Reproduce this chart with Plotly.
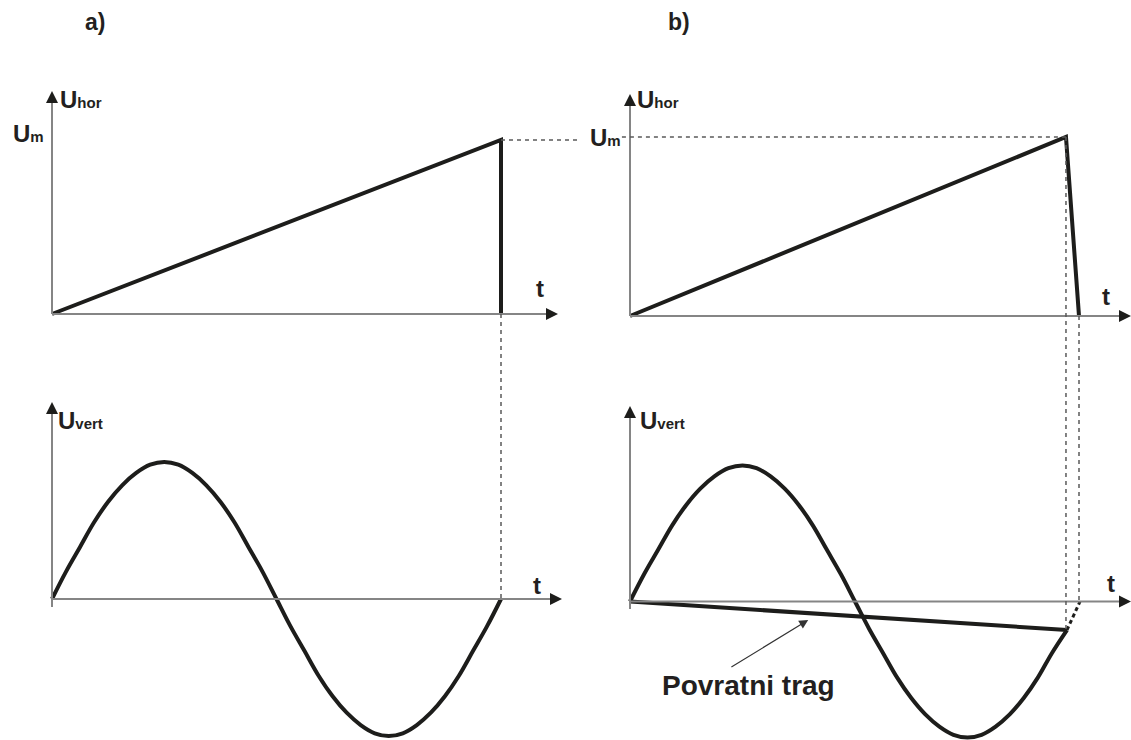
import plotly.graph_objects as go

W, H = 1131, 740

# ---------------- data (t in periods of the sweep, U normalised) ----------------
# a) ideal sawtooth: linear rise to Um, instant return
t_hor_a = [0.0, 1.0, 1.0]
u_hor_a = [0.0, 1.0, 0.0]
# b) real sawtooth: rise to Um, finite return time
t_hor_b = [0.0, 0.971, 1.0]
u_hor_b = [0.0, 1.0, 0.0]

# vertical-deflection signal
t_vert_a = [0.0, 0.03125, 0.0625, 0.09375, 0.125, 0.15625, 0.1875, 0.21875, 0.25,
            0.28125, 0.3125, 0.34375, 0.375, 0.40625, 0.4375, 0.46875, 0.5,
            0.53125, 0.5625, 0.59375, 0.625, 0.65625, 0.6875, 0.71875, 0.75,
            0.78125, 0.8125, 0.84375, 0.875, 0.90625, 0.9375, 0.96875, 1.0]
u_vert_a = [0.0, 0.20, 0.38, 0.56, 0.71, 0.83, 0.92, 0.98, 1.0,
            0.98, 0.92, 0.83, 0.71, 0.56, 0.38, 0.20, 0.0,
            -0.20, -0.38, -0.56, -0.71, -0.83, -0.92, -0.98, -1.0,
            -0.98, -0.92, -0.83, -0.71, -0.56, -0.38, -0.20, 0.0]
t_vert_b = [0.0, 0.03125, 0.0625, 0.09375, 0.125, 0.15625, 0.1875, 0.21875, 0.25,
            0.28125, 0.3125, 0.34375, 0.375, 0.40625, 0.4375, 0.46875, 0.5,
            0.53125, 0.5625, 0.59375, 0.625, 0.65625, 0.6875, 0.71875, 0.75,
            0.78125, 0.8125, 0.84375, 0.875, 0.90625, 0.9375, 0.971]
u_vert_b = [0.0, 0.20, 0.38, 0.56, 0.71, 0.83, 0.92, 0.98, 1.0,
            0.98, 0.92, 0.83, 0.71, 0.56, 0.38, 0.20, 0.0,
            -0.20, -0.38, -0.56, -0.71, -0.83, -0.92, -0.98, -1.0,
            -0.98, -0.92, -0.83, -0.71, -0.56, -0.38, -0.21]
# return trace (Povratni trag) and the part of the signal during flyback
t_return_b = [0.0, 0.971]
u_return_b = [0.0, -0.21]
t_fly_b = [0.971, 1.0]
u_fly_b = [-0.21, 0.0]

# ---------------- layout geometry (pixels) ----------------
panels = {
    "a_top": dict(ax="", ox=52, oy=314, sx=449, sy=174, box=(0, 600, 80, 335)),
    "a_bot": dict(ax="2", ox=52, oy=599, sx=449, sy=137, box=(0, 600, 390, 740)),
    "b_top": dict(ax="3", ox=630, oy=316, sx=449, sy=179, box=(600, 1131, 80, 335)),
    "b_bot": dict(ax="4", ox=630, oy=601.5, sx=450, sy=136, box=(600, 1131, 390, 740)),
}

def py_of(p, u):
    return p["oy"] - u * p["sy"]

def paper_y(p, u):
    return 1 - py_of(p, u) / H

fig = go.Figure()
layout_axes = {}
for name, p in panels.items():
    x0, x1, y0, y1 = p["box"]
    xd = [x0 / W, x1 / W]
    xr = [(x0 - p["ox"]) / p["sx"], (x1 - p["ox"]) / p["sx"]]
    yd = [1 - y1 / H, 1 - y0 / H]
    yr = [(p["oy"] - y1) / p["sy"], (p["oy"] - y0) / p["sy"]]
    a = p["ax"]
    layout_axes["xaxis" + a] = dict(domain=xd, range=xr, visible=False, fixedrange=True,
                                    anchor="y" + a)
    layout_axes["yaxis" + a] = dict(domain=yd, range=yr, visible=False, fixedrange=True,
                                    anchor="x" + a)

BLACK = "#1d1d1b"
AXC = "#858585"
DASHC = "#5a5a5a"

def add_line(p, t, u, width=4, dash=None, shape="linear", color=BLACK):
    a = p["ax"]
    fig.add_trace(go.Scatter(x=t, y=u, mode="lines", xaxis="x" + a, yaxis="y" + a,
                             line=dict(color=color, width=width, dash=dash, shape=shape,
                                       smoothing=1.0),
                             hoverinfo="skip", showlegend=False, cliponaxis=False))

PA, PB, PC, PD = panels["a_top"], panels["a_bot"], panels["b_top"], panels["b_bot"]

shapes = []
annotations = []

def axis_arrows(p, x_tip_px, y_tip_px, y_bottom_px):
    a = p["ax"]
    xr, yr = "x" + a, "y" + a
    t_tip = (x_tip_px - p["ox"]) / p["sx"]
    u_tip = (p["oy"] - y_tip_px) / p["sy"]
    u_bot = (p["oy"] - y_bottom_px) / p["sy"]
    shapes.append(dict(type="line", xref=xr, yref=yr, x0=0, x1=t_tip - 6 / p["sx"], y0=0, y1=0,
                       line=dict(color=AXC, width=2)))
    shapes.append(dict(type="line", xref=xr, yref=yr, x0=0, x1=0, y0=u_bot, y1=u_tip - 6 / p["sy"],
                       line=dict(color=AXC, width=2)))
    annotations.append(dict(xref=xr, yref=yr, axref=xr, ayref=yr, x=t_tip, y=0,
                            ax=t_tip - 12 / p["sx"], ay=0, text="", showarrow=True,
                            arrowhead=2, arrowsize=1.5, arrowwidth=1.6, arrowcolor="#1d1d1b"))
    annotations.append(dict(xref=xr, yref=yr, axref=xr, ayref=yr, x=0, y=u_tip,
                            ax=0, ay=u_tip - 12 / p["sy"], text="", showarrow=True,
                            arrowhead=2, arrowsize=1.5, arrowwidth=1.6, arrowcolor="#1d1d1b"))

axis_arrows(PA, 558, 91, 314)
axis_arrows(PB, 562, 402, 607)
axis_arrows(PC, 1131, 94, 316)
axis_arrows(PD, 1131, 406, 609)

# dashed helper lines
DASH = "4px,4px"
shapes.append(dict(type="line", xref="x", yref="paper", x0=1, x1=1,
                   y0=paper_y(PA, 0), y1=paper_y(PB, 0), line=dict(color=DASHC, width=1.5, dash=DASH)))
shapes.append(dict(type="line", xref="x", yref="y", x0=1, x1=1.176, y0=1, y1=1,
                   line=dict(color=DASHC, width=1.5, dash=DASH)))
shapes.append(dict(type="line", xref="x3", yref="y3", x0=-0.018, x1=t_hor_b[1], y0=1, y1=1,
                   line=dict(color=DASHC, width=1.5, dash=DASH)))
shapes.append(dict(type="line", xref="x3", yref="paper", x0=t_hor_b[1], x1=t_hor_b[1],
                   y0=paper_y(PC, u_hor_b[1]), y1=paper_y(PD, u_return_b[1]),
                   line=dict(color=DASHC, width=1.5, dash=DASH)))
shapes.append(dict(type="line", xref="x3", yref="paper", x0=t_hor_b[2], x1=t_hor_b[2],
                   y0=paper_y(PC, 0), y1=paper_y(PD, 0),
                   line=dict(color=DASHC, width=1.5, dash=DASH)))

# curves
add_line(PA, t_hor_a, u_hor_a)
add_line(PB, t_vert_a, u_vert_a, shape="spline")
add_line(PC, t_hor_b, u_hor_b)
add_line(PD, t_vert_b, u_vert_b, shape="spline")
add_line(PD, t_return_b, u_return_b)
add_line(PD, t_fly_b, u_fly_b, width=3, dash="4px,3px")

FONT = "Liberation Sans, Arial, sans-serif"
TC = "#231f20"

def label(p, t, u, text, size=24, xanchor="left"):
    a = p["ax"]
    annotations.append(dict(xref="x" + a, yref="y" + a, x=t, y=u, text=text, showarrow=False,
                            xanchor=xanchor, yanchor="middle",
                            font=dict(family=FONT, size=size, color=TC)))

def sub(main, small):
    return "<b>" + main + '<span style="font-size:15px">' + small + "</span></b>"

label(PA, 0.014, 1.23, sub("U", "hor"))
label(PC, 0.012, 1.21, sub("U", "hor"))
label(PB, 0.009, 1.30, sub("U", "vert"))
label(PD, 0.018, 1.33, sub("U", "vert"))
label(PA, -0.013, 1.04, sub("U", "m"), xanchor="right")
label(PC, -0.016, 1.0, sub("U", "m"), xanchor="right")
label(PA, 1.087, 0.144, "<b>t</b>", xanchor="center")
label(PC, 1.06, 0.11, "<b>t</b>", xanchor="center")
label(PB, 1.08, 0.095, "<b>t</b>", xanchor="center")
label(PD, 1.069, 0.13, "<b>t</b>", xanchor="center")
label(PD, 0.264, -0.614, "<b>Povratni trag</b>", size=28, xanchor="center")

# arrow pointing to the return trace
annotations.append(dict(xref="x4", yref="y4", axref="x4", ayref="y4", x=0.396, y=-0.136,
                        ax=0.222, ay=-0.489, text="", showarrow=True, arrowhead=2,
                        arrowsize=1.5, arrowwidth=1.2, arrowcolor="#333"))

for txt, px in (("a)", 95), ("b)", 679)):
    annotations.append(dict(xref="paper", yref="paper", x=px / W, y=1 - 22 / H,
                            text="<b>" + txt + "</b>", showarrow=False,
                            xanchor="center", yanchor="middle",
                            font=dict(family=FONT, size=23, color=TC)))

fig.update_layout(width=W, height=H, margin=dict(l=0, r=0, t=0, b=0),
                  paper_bgcolor="white", plot_bgcolor="rgba(0,0,0,0)",
                  shapes=shapes, annotations=annotations, showlegend=False,
                  **layout_axes)

fig.write_html("out.html", config={"displayModeBar": False},
               post_script="document.body.style.margin='0';document.body.style.overflow='hidden';")
